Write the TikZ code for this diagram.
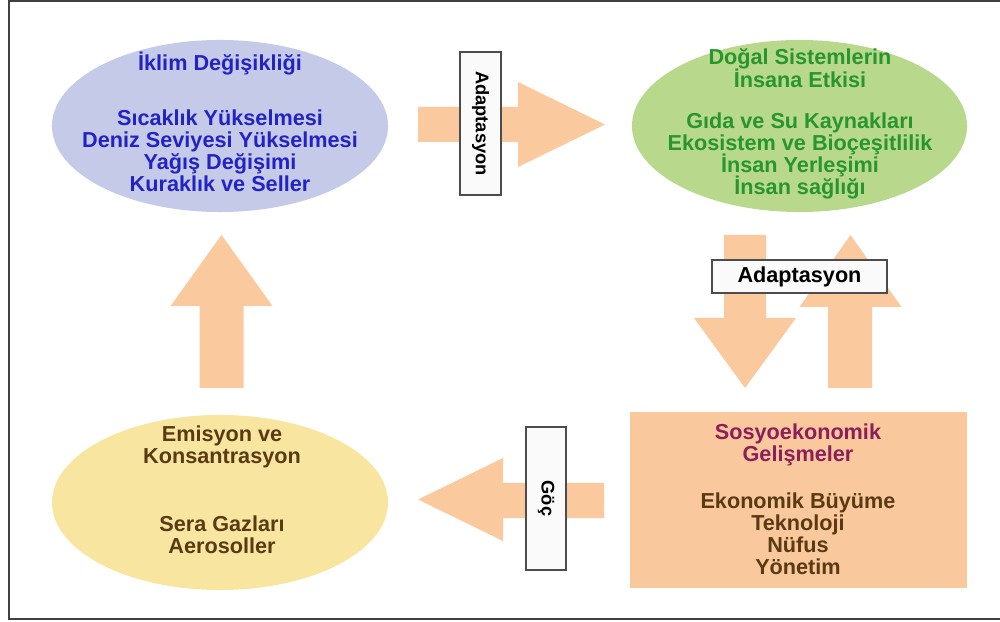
\documentclass[tikz,border=0pt]{standalone}
\usepackage{fontspec}
\setmainfont{Liberation Sans}
\usepackage{tikz}
\usetikzlibrary{shapes.geometric,positioning}
\definecolor{peach}{RGB}{250,201,158}
\definecolor{climfill}{RGB}{197,202,232}
\definecolor{natfill}{RGB}{184,216,140}
\definecolor{emifill}{RGB}{247,229,160}
\definecolor{socfill}{RGB}{249,200,156}
\definecolor{climtext}{RGB}{35,35,195}
\definecolor{nattext}{RGB}{40,150,45}
\definecolor{emitext}{RGB}{90,58,18}
\definecolor{soctext}{RGB}{140,30,90}
\newcommand{\blocktext}{\bfseries\fontsize{15.4}{15.7}\selectfont\lineskiplimit-20pt\relax}

\begin{document}
\begin{tikzpicture}[x=0.025cm,y=-0.025cm,
		every node/.style={font=\blocktext, align=center},
		flow/.style={fill=peach},
		tag/.style={draw=black!70, fill=black!2, line width=0.8pt, inner sep=0pt, font=\bfseries\fontsize{13}{14}\selectfont}]
			\useasboundingbox (0,0) rectangle (1000,622);
			\draw[black!75, line width=1.2pt] (1000,1) -- (9,1) -- (9,619) -- (1000,619);
			% the four blocks
			\node[ellipse, fill=climfill, minimum width=8.4cm, minimum height=4.3cm] (clim) at (220,126) {};
			\node[ellipse, fill=natfill, minimum width=8.375cm, minimum height=4.3cm] (nat) at (799.5,126) {};
			\node[ellipse, fill=emifill, minimum width=8.4cm, minimum height=4.375cm] (emi) at (220,502.5) {};
			\node[rectangle, fill=socfill, minimum width=8.425cm, minimum height=4.4cm] (soc) at (798.5,500) {};
			\node[text=climtext] (climtext) at (220,122) {İklim Değişikliği\\[22.8pt] Sıcaklık Yükselmesi\\ Deniz Seviyesi Yükselmesi\\ Yağış Değişimi\\ Kuraklık ve Seller};
			\node[text=nattext] (nattext) at (800,124) {Doğal Sistemlerin\\ İnsana Etkisi\\[13.5pt] Gıda ve Su Kaynakları\\ Ekosistem ve Bioçeşitlilik\\ İnsan Yerleşimi\\ İnsan sağlığı};
			\node[text=emitext] (emitext) at (222,490) {Emisyon ve\\ Konsantrasyon\\[32.7pt] Sera Gazları\\ Aerosoller};
			\node[text=soctext] (soctext) at (798,445) {Sosyoekonomik\\ Gelişmeler};
			\node[text=emitext, below=12pt of soctext] (soclist) {Ekonomik Büyüme\\ Teknoloji\\ Nüfus\\ Yönetim};
			% block arrows
			\fill[flow] (418,107) -- (518,107) -- (518,82) -- (605,124.5) -- (518,167) -- (518,142) -- (418,142) -- cycle;
			\fill[flow] (724,235) -- (766,235) -- (766,318) -- (796,318) -- (745,388) -- (694,318) -- (724,318) -- cycle;
			\fill[flow] (828,388) -- (872,388) -- (872,307) -- (901.5,307) -- (850.5,235) -- (799.5,307) -- (828,307) -- cycle;
			\fill[flow] (199.5,388) -- (243.5,388) -- (243.5,306) -- (272.5,306) -- (221.5,235) -- (170.5,306) -- (199.5,306) -- cycle;
			\fill[flow] (604,483) -- (503,483) -- (503,458) -- (418,499.5) -- (503,541) -- (503,518) -- (604,518) -- cycle;
			% labels on the arrows
			\node[tag, rotate=-90, minimum width=3.575cm, minimum height=1.025cm] (adaptright) at (480.5,123.5) {Adaptasyon};
			\node[tag, minimum width=4.375cm, minimum height=0.825cm, font=\bfseries\fontsize{15.4}{15.6}\selectfont] (adaptdown) at (799.5,276.5) {Adaptasyon};
			\node[tag, rotate=-90, minimum width=3.575cm, minimum height=1cm] (goc) at (546,498.5) {Göç};
		\end{tikzpicture}
\end{document}
